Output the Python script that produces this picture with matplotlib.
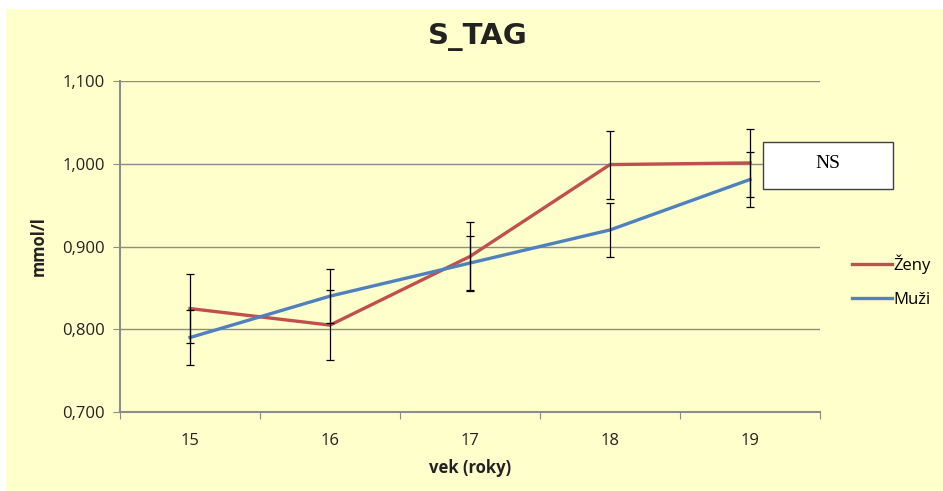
import numpy as np
import matplotlib.pyplot as plt
from matplotlib.patches import Rectangle

ages = ["15", "16", "17", "18", "19"]
zeny = [0.825, 0.805, 0.888, 0.999, 1.001]
zeny_err = [0.042, 0.042, 0.042, 0.041, 0.041]
muzi = [0.790, 0.840, 0.880, 0.920, 0.981]
muzi_err = [0.033, 0.033, 0.033, 0.033, 0.033]
yticks = [0.7, 0.8, 0.9, 1.0, 1.1]

bg = "#FFFFCC"
grid_c = "#8C8C8C"
font = ["Open Sans", "DejaVu Sans"]

fig = plt.figure(figsize=(9.43, 4.91), dpi=100, facecolor="white")
fig.patches.append(Rectangle((6 / 943, 0), 1, 1 - 9 / 491, transform=fig.transFigure,
                             facecolor=bg, edgecolor="none", zorder=-5))

ax = fig.add_axes([120 / 943, 79 / 491, 700 / 943, 331 / 491])
ax.set_facecolor(bg)
x = np.arange(len(ages))

ax.plot(x, zeny, color="#C0504D", lw=2.4, label="Ženy", zorder=3)
ax.plot(x, muzi, color="#4F81BD", lw=2.4, label="Muži", zorder=4)
ax.errorbar(x, zeny, yerr=zeny_err, fmt="none", ecolor="black", elinewidth=0.9,
            capsize=3, capthick=0.9, zorder=5)
ax.errorbar(x, muzi, yerr=muzi_err, fmt="none", ecolor="black", elinewidth=0.9,
            capsize=3, capthick=0.9, zorder=5)

ax.set_xlim(-0.5, len(ages) - 0.5)
ax.set_ylim(0.7, 1.1)
ax.set_yticks(yticks)
ax.set_yticklabels([f"{v:.3f}".replace(".", ",") for v in yticks], family=font, fontsize=12,
                   color="#222222")
ax.set_xticks(np.arange(-0.5, len(ages), 1.0))
ax.set_xticklabels([])
ax.set_xticks(x, minor=True)
ax.set_xticklabels(ages, minor=True, family=font, fontsize=12, color="#222222")
ax.tick_params(axis="x", which="major", length=5, color=grid_c, direction="out")
ax.tick_params(axis="x", which="minor", length=0, pad=15)
ax.tick_params(axis="y", length=5, color=grid_c, direction="out", pad=6)
ax.yaxis.grid(True, color=grid_c, lw=1)
ax.set_axisbelow(True)
for s in ["top", "right"]:
    ax.spines[s].set_visible(False)
for s in ["left", "bottom"]:
    ax.spines[s].set_color(grid_c)
    ax.spines[s].set_linewidth(1.5)

ax.set_xlabel("vek (roky)", family=font, fontsize=12, fontweight="bold", labelpad=7,
              color="#222222")
ax.set_ylabel("mmol/l", family=font, fontsize=12, fontweight="bold", labelpad=10,
              color="#222222")

fig.text(478 / 943, 1 - 37 / 491, "S_TAG", ha="center", va="center",
         family=["DejaVu Sans"], fontsize=21, fontweight="bold", color="#222222")

fig.patches.append(Rectangle((763 / 943, 1 - 189 / 491), 130 / 943, 47 / 491,
                             transform=fig.transFigure, facecolor="white",
                             edgecolor="#404040", lw=1, zorder=6))
fig.text(828 / 943, 1 - 164 / 491, "NS", ha="center", va="center",
         family=["Liberation Serif", "DejaVu Serif"], fontsize=14, zorder=7)

fig.legend(loc="center left", bbox_to_anchor=(837 / 943, 1 - 281 / 491), frameon=False,
           prop={"family": font, "size": 12}, handlelength=2.4, handletextpad=0.1,
           labelspacing=1.05)

fig.savefig("out.png", dpi=100, facecolor=fig.get_facecolor())
